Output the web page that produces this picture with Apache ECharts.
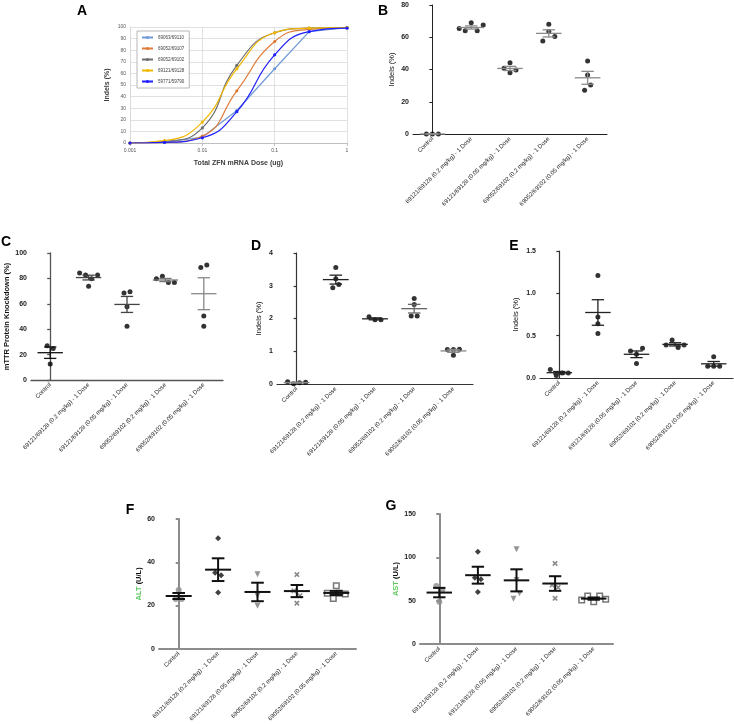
<!DOCTYPE html>
<html><head><meta charset="utf-8">
<script src="https://cdn.jsdelivr.net/npm/echarts@6/dist/echarts.min.js"></script>
<style>html,body{margin:0;padding:0;background:#fff}#c{width:734px;height:724px}</style>
</head><body><div id="c"></div>
<script>
// ---------- DATA ----------
const categories = ['Control', '69121/69128 (0.2 mg/kg) - 1 Dose', '69121/69128 (0.05 mg/kg) - 1 Dose', '69052/69102 (0.2 mg/kg) - 1 Dose', '69052/69102 (0.05 mg/kg) - 1 Dose'];

// Panel A: dose response (Indels %)
const doses = [0.001, 0.003, 0.01, 0.03, 0.1, 0.3, 1];
const aNames = ['69063/69110', '69052/69107', '69052/69102', '69121/69128', '59771/59790'];
const a69063_69110 = [0, 0.5, 5, 28, 64, 96, 99.5];
const a69052_69107 = [0, 0.5, 6, 45, 87.5, 98, 99.5];
const a69052_69102 = [0, 1.5, 13, 67, 95, 99, 99.5];
const a69121_69128 = [0, 2, 18, 64, 95, 99, 99.5];
const a59771_59790 = [0, 0.5, 4.5, 27, 76, 96, 99];
const aXTickLabels = ['0.001', '0.01', '0.1', '1'];

// Panel B: Indels (%)
const indelsB = [[0, 0, 0], [65.5, 64.1, 69.0, 64.1, 67.6], [40.7, 44.2, 38.0, 39.7], [57.7, 68.0, 63.5, 60.4], [27.1, 36.6, 45.3, 30.4]];
// Panel C: mTTR protein knockdown (%)
const knockC = [[12.6, 27.0, 24.9], [84.3, 82.7, 73.8, 79.8, 82.7], [68.6, 57.6, 42.4, 69.4], [79.8, 81.7, 76.7, 76.7], [88.5, 90.6, 50.3, 42.4]];
// Panel D: Indels (%)
const indelsD = [[0.07, 0.01, 0.04, 0.05], [2.94, 3.56, 3.21, 3.04], [2.05, 1.96, 1.96], [2.61, 2.08, 2.43, 2.08], [1.05, 0.88, 1.05, 1.06]];
// Panel E: Indels (%)
const indelsE = [[0.10, 0.03, 0.06, 0.06], [0.72, 1.21, 0.525, 0.64], [0.32, 0.28, 0.35, 0.17], [0.39, 0.45, 0.36, 0.39], [0.14, 0.25, 0.14, 0.14]];
// Panel F: ALT (U/L)
const altF = [[23.0, 27.2, 23.0], [35.2, 34.0, 26.0, 51.1], [34.4, 24.5, 19.9], [21.1, 26.8, 34.3, 24.5], [25.7, 29.1, 23.3, 25.7, 25.3]];
// Panel G: AST (U/L)
const astG = [[66.9, 48.8, 62.3], [106.5, 76.5, 74.6, 60.0], [109.2, 73.8, 52.3, 58.5], [93.0, 68.0, 65.4, 52.7], [50.8, 55.4, 48.8, 55.4, 51.5]];

// ---------- LAYOUT / STYLE ----------
const FONT = 'Liberation Sans, Arial, sans-serif';
const layout = {
  A: {left: 130, top: 27, width: 217, height: 116},
  B: {left: 413, top: 5, width: 194, height: 129},
  C: {left: 31, top: 253, width: 192, height: 127},
  D: {left: 277, top: 253, width: 196, height: 131},
  E: {left: 540, top: 251, width: 193, height: 127},
  F: {left: 159, top: 519, width: 197, height: 130},
  G: {left: 420, top: 514, width: 193, height: 130}
};
const XPATH = 'path://M2,0L5,3L8,0L10,2L7,5L10,8L8,10L5,7L2,10L0,8L3,5L0,2Z';
const dotSym = [0, 1, 2, 3, 4].map(() => ({symbol: 'circle', color: '#000', size: 5}));
const fgSym = [
  {symbol: 'circle', color: '#8c8c8c', size: 6},
  {symbol: 'diamond', color: '#111', size: 6},
  {symbol: 'triangle', rotate: 180, color: '#7a7a7a', size: 6},
  {symbol: XPATH, color: '#6a6a6a', size: 5.5},
  {symbol: 'rect', color: 'rgba(255,255,255,0)', border: '#555', size: 5.5}
];
const panels = [
  {key: 'B', data: indelsB, max: 80, interval: 20, name: 'Indels (%)', nameGap: 17, axisColor: '#222', axisWidth: 1, mean: ['#8a8a8a', '#8a8a8a', '#8a8a8a', '#8a8a8a', '#8a8a8a'], lw: 1.3, sym: dotSym, bold: false},
  {key: 'C', data: knockC, max: 100, interval: 20, name: 'mTTR Protein Knockdown (%)', nameGap: 19, axisColor: '#555', axisWidth: 1.3, mean: ['#111', '#444', '#444', '#777', '#888'], lw: 1.3, sym: dotSym, bold: true},
  {key: 'D', data: indelsD, max: 4, interval: 1, name: 'Indels (%)', nameGap: 14, axisColor: '#333', axisWidth: 1.2, mean: ['#888', '#222', '#222', '#666', '#888'], lw: 1.3, sym: dotSym, bold: false},
  {key: 'E', data: indelsE, max: 1.5, interval: 0.5, name: 'Indels (%)', nameGap: 20, axisColor: '#333', axisWidth: 1.2, mean: ['#222', '#222', '#222', '#222', '#222'], lw: 1.3, sym: dotSym, bold: false, fmt: v => v.toFixed(1)},
  {key: 'F', data: altF, max: 60, interval: 20, name: '{g|ALT} (U/L)', nameGap: 13, axisColor: '#8c8c8c', axisWidth: 2, mean: ['#111', '#111', '#111', '#111', '#111'], lw: 2, sym: fgSym, bold: true},
  {key: 'G', data: astG, max: 150, interval: 50, name: '{g|AST} (U/L)', nameGap: 15, axisColor: '#8c8c8c', axisWidth: 2, mean: ['#111', '#111', '#111', '#111', '#111'], lw: 2, sym: fgSym, bold: true}
];

// ---------- HELPERS ----------
function stats(vals) {
  const n = vals.length, m = vals.reduce((a, b) => a + b, 0) / n;
  const sd = Math.sqrt(vals.reduce((a, b) => a + (b - m) * (b - m), 0) / (n - 1));
  return [m, sd / Math.sqrt(n)];
}
// column scatter layout: points close in value (in pixels) are spread side by side
function swarm(groups, box, ymax) {
  const pxY = box.height / ymax, catW = box.width / groups.length;
  const step = 6, thr = 5.5;
  return groups.map((vals, gi) => {
    const idx = vals.map((v, i) => i).sort((a, b) => vals[a] - vals[b]);
    const rows = []; let cur = [idx[0]];
    for (let k = 1; k < idx.length; k++) {
      if ((vals[idx[k]] - vals[idx[k - 1]]) * pxY < thr) cur.push(idx[k]);
      else { rows.push(cur); cur = [idx[k]]; }
    }
    rows.push(cur);
    const pts = [];
    rows.forEach(r => { r.sort((a, b) => a - b); r.forEach((i, k) => pts.push([gi + (k - (r.length - 1) / 2) * step / catW, vals[i]])); });
    return pts;
  });
}

// ---------- OPTION ----------
const grids = [], xAxes = [], yAxes = [], series = [], graphics = [];

// Panel A
grids.push(Object.assign({}, layout.A));
xAxes.push({
  gridIndex: 0, type: 'log', logBase: 10, min: 0.001, max: 1,
  axisLine: {lineStyle: {color: '#bfbfbf', width: 1}},
  axisTick: {show: true, length: 3, lineStyle: {color: '#bfbfbf'}},
  splitLine: {show: true, lineStyle: {color: '#d9d9d9', width: 0.8}},
  axisLabel: {fontSize: 5, color: '#595959', margin: 5, formatter: v => aXTickLabels[Math.round(Math.log10(v) + 3)] || ''},
  name: 'Total ZFN mRNA Dose (ug)', nameLocation: 'middle', nameGap: 17,
  nameTextStyle: {fontSize: 7, fontWeight: 'bold', color: '#404040', fontFamily: FONT}
});
yAxes.push({
  gridIndex: 0, type: 'value', min: 0, max: 100, interval: 10,
  axisLine: {show: true, lineStyle: {color: '#d9d9d9'}}, axisTick: {show: false},
  splitLine: {show: true, lineStyle: {color: '#d9d9d9', width: 0.8}},
  axisLabel: {fontSize: 5, color: '#595959', margin: 4},
  name: 'Indels (%)', nameLocation: 'middle', nameGap: 19,
  nameTextStyle: {fontSize: 7, fontWeight: 'bold', color: '#404040', fontFamily: FONT}
});
const aSeries = [a69063_69110, a69052_69107, a69052_69102, a69121_69128, a59771_59790];
const aColors = ['#6f9ad6', '#e07b39', '#6e6e6e', '#f2b800', '#1f1fff'];
aSeries.forEach((vals, k) => {
  series.push({
    name: aNames[k], type: 'line', xAxisIndex: 0, yAxisIndex: 0,
    data: doses.map((d, i) => [d, vals[i]]),
    smooth: k === 0 ? false : 0.5,
    symbol: 'circle', symbolSize: 3.2, showSymbol: true,
    lineStyle: {color: aColors[k], width: 1.2}, itemStyle: {color: aColors[k]},
    z: 3 + k
  });
});
const minorTicks = [];
[0.001, 0.01, 0.1].forEach(d => { for (let k = 2; k <= 9; k++) minorTicks.push(d * k); });
series.push({
  type: 'line', xAxisIndex: 0, yAxisIndex: 0, data: [[0.001, 0]], showSymbol: false,
  lineStyle: {opacity: 0}, silent: true,
  markLine: {silent: true, symbol: 'none', label: {show: false}, animation: false,
    lineStyle: {color: '#bfbfbf', width: 0.8, type: 'solid'},
    data: minorTicks.map(v => [{coord: [v, 0]}, {coord: [v, -2.2]}])}
});

// Panels B-G
panels.forEach((p, k) => {
  const gi = k + 1, box = layout[p.key];
  grids.push(Object.assign({}, box));
  const axLine = {lineStyle: {color: p.axisColor, width: p.axisWidth}};
  xAxes.push({
    gridIndex: gi, type: 'category', data: categories, boundaryGap: true,
    axisLine: axLine, axisTick: {alignWithLabel: true, length: 3, lineStyle: {color: p.axisColor, width: p.axisWidth}},
    axisLabel: {rotate: 45, interval: 0, fontSize: 6, color: '#222', margin: 4, fontFamily: FONT},
    splitLine: {show: false}
  });
  xAxes.push({gridIndex: gi, type: 'value', min: -0.5, max: 4.5, show: false});
  yAxes.push({
    gridIndex: gi, type: 'value', min: 0, max: p.max, interval: p.interval,
    axisLine: Object.assign({show: true}, axLine),
    axisTick: {show: true, length: 3, lineStyle: {color: p.axisColor, width: p.axisWidth}},
    splitLine: {show: false},
    axisLabel: {fontSize: 7, fontWeight: 'bold', color: '#222', margin: 4, fontFamily: FONT, formatter: p.fmt},
    name: p.name, nameLocation: 'middle', nameGap: p.nameGap,
    nameTextStyle: {fontSize: 7.5, fontWeight: p.bold ? 'bold' : 'normal', color: '#111', fontFamily: FONT,
      rich: {g: {color: '#5cc85c', fontSize: 7.5, fontWeight: 'bold', fontFamily: FONT}}}
  });
  const vx = 2 * gi; // value x-axis index
  const pts = swarm(p.data, box, p.max);
  pts.forEach((g, i) => {
    const s = p.sym[i];
    series.push({
      type: 'scatter', xAxisIndex: vx, yAxisIndex: gi, data: g,
      symbol: s.symbol, symbolSize: s.size, symbolRotate: s.rotate || 0,
      itemStyle: s.border ? {color: s.color, borderColor: s.border, borderWidth: 1.5} : {color: s.color},
      z: 3, silent: true, animation: false
    });
  });
  const st = p.data.map((vals, i) => { const r = stats(vals); return [i, r[0], r[1]]; });
  series.push({
    type: 'custom', xAxisIndex: vx, yAxisIndex: gi, data: st, encode: {x: 0, y: 1},
    z: 6, silent: true, animation: false,
    renderItem: (params, api) => {
      const i = api.value(0), m = api.value(1), s = api.value(2);
      const c = api.coord([i, m]), t = api.coord([i, m + s]), b = api.coord([i, m - s]);
      const u = api.size([1, 0])[0];
      const style = {stroke: p.mean[i], lineWidth: p.lw, fill: null};
      const mh = 0.33 * u, ch = 0.16 * u;
      return {type: 'group', children: [
        {type: 'line', shape: {x1: c[0] - mh, y1: c[1], x2: c[0] + mh, y2: c[1]}, style},
        {type: 'line', shape: {x1: c[0], y1: t[1], x2: c[0], y2: b[1]}, style},
        {type: 'line', shape: {x1: c[0] - ch, y1: t[1], x2: c[0] + ch, y2: t[1]}, style},
        {type: 'line', shape: {x1: c[0] - ch, y1: b[1], x2: c[0] + ch, y2: b[1]}, style}
      ]};
    }
  });
});

// Panel letters
const letters = [['A', 82, 11], ['B', 383, 11], ['C', 6, 242], ['D', 256, 246], ['E', 514, 246], ['F', 130, 510], ['G', 391, 506]];
letters.forEach(([t, x, y]) => graphics.push({type: 'text', x, y, style: {text: t, font: 'bold 14px ' + FONT, fill: '#000', textAlign: 'center', textVerticalAlign: 'middle'}}));

const option = {
  animation: false,
  textStyle: {fontFamily: FONT},
  legend: {
    data: aNames, left: 137, top: 31, orient: 'vertical', itemWidth: 11, itemHeight: 4, itemGap: 6,
    padding: [4, 5, 4, 4], borderColor: '#a6a6a6', borderWidth: 0.8, backgroundColor: '#fff',
    textStyle: {fontSize: 4.5, color: '#404040', fontFamily: FONT}
  },
  grid: grids, xAxis: xAxes, yAxis: yAxes, series, graphic: graphics
};
const chart = echarts.init(document.getElementById('c'));
chart.setOption(option);
</script></body></html>
